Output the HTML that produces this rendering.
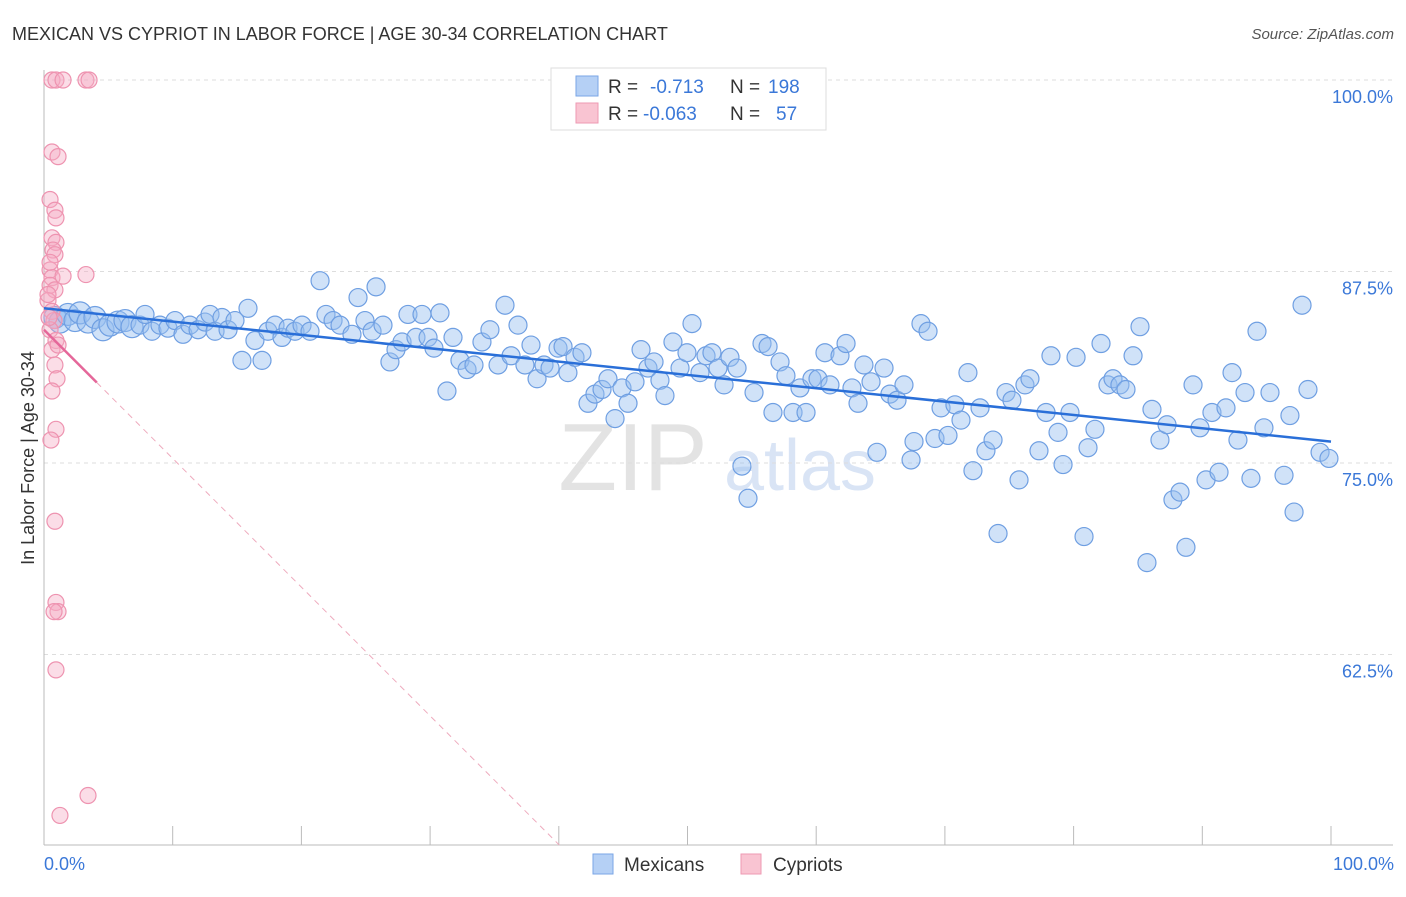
<!DOCTYPE html>
<html><head><meta charset="utf-8"><style>
body{margin:0;background:#fff;font-family:"Liberation Sans",sans-serif}
svg text{font-family:"Liberation Sans",sans-serif}
</style></head><body>
<svg id="c" width="1406" height="892" xmlns="http://www.w3.org/2000/svg">
<text x="12" y="40" font-size="18" fill="#333">MEXICAN VS CYPRIOT IN LABOR FORCE | AGE 30-34 CORRELATION CHART</text>
<text x="1394" y="39" font-size="15" fill="#555" text-anchor="end" font-style="italic">Source: ZipAtlas.com</text>
<text x="34" y="458" font-size="18" fill="#333" text-anchor="middle" transform="rotate(-90 34 458)">In Labor Force | Age 30-34</text>
<g><text x="633" y="490" font-size="96" fill="#ddd" font-family="Liberation Serif" text-anchor="middle" opacity="0.8">ZIP</text><text x="800" y="490" font-size="72" fill="#c9d9f2" text-anchor="middle" opacity="0.7">atlas</text></g>
<g id="grid"></g><g id="pts"></g><g id="lines"></g>
<g>
<rect x="551" y="68" width="275" height="62" fill="#fff" stroke="#ddd"/>
<rect x="576" y="76" width="22" height="20" fill="#b5d0f5" stroke="#7aa6e6"/>
<rect x="576" y="103" width="22" height="20" fill="#f9c4d2" stroke="#ee9ab3"/>
<text x="608" y="93" font-size="19" fill="#333">R = </text><text x="650" y="93" font-size="19" fill="#3b78d8">-0.713</text>
<text x="730" y="93" font-size="19" fill="#333">N = </text><text x="768" y="93" font-size="19" fill="#3b78d8">198</text>
<text x="608" y="120" font-size="19" fill="#333">R = </text><text x="643" y="120" font-size="19" fill="#3b78d8">-0.063</text>
<text x="730" y="120" font-size="19" fill="#333">N = </text><text x="776" y="120" font-size="19" fill="#3b78d8">57</text>
</g>
<g>
<rect x="593" y="854" width="20" height="20" fill="#b5d0f5" stroke="#7aa6e6"/>
<text x="624" y="871" font-size="19" fill="#333">Mexicans</text>
<rect x="741" y="854" width="20" height="20" fill="#f9c4d2" stroke="#ee9ab3"/>
<text x="773" y="871" font-size="19" fill="#333">Cypriots</text>
</g>
<text x="44" y="870" font-size="18" fill="#3b78d8">0.0%</text>
<text x="1394" y="870" font-size="18" fill="#3b78d8" text-anchor="end">100.0%</text>
</svg>
<script>
const yTicks=[100,87.5,75,62.5];
const yTickLabels=["100.0%","87.5%","75.0%","62.5%"];
const xTicks=[0,10,20,30,40,50,60,70,80,90,100];
const blueX=[0.85,1.24,1.86,2.41,2.80,3.42,3.96,4.58,5.13,5.75,6.29,6.84,7.46,7.85,8.39,9.01,9.63,10.18,10.80,11.34,11.97,12.51,12.90,13.29,13.83,14.30,14.84,15.38,15.85,16.39,16.94,17.40,17.95,18.49,18.96,19.50,20.05,20.67,21.45,21.91,22.46,23.0,23.93,24.4,24.94,25.49,25.8,26.34,26.88,27.35,27.82,28.28,28.9,29.37,29.84,30.3,30.77,31.31,31.78,32.32,32.87,33.41,34.03,34.65,35.28,35.82,36.29,36.83,37.37,37.84,38.31,38.85,39.32,39.94,40.33,40.71,41.26,41.8,42.27,42.81,43.36,43.82,44.37,44.91,45.38,45.92,46.39,46.93,47.4,47.86,48.25,48.87,49.42,49.96,50.35,50.97,51.44,51.9,52.37,52.84,53.3,53.85,54.23,54.7,55.17,55.79,56.26,56.64,57.19,57.65,58.2,58.74,59.21,59.67,60.14,60.68,61.07,61.85,62.32,62.78,63.25,63.71,64.26,64.72,65.27,65.73,66.28,66.82,67.37,67.6,68.14,68.69,69.23,69.7,70.24,70.78,71.25,71.79,72.18,72.73,73.19,73.74,74.13,74.75,75.21,75.76,76.22,76.61,77.31,77.86,78.24,78.79,79.18,79.72,80.19,80.81,81.12,81.66,82.13,82.67,83.06,83.6,84.07,84.62,85.16,85.7,86.09,86.71,87.26,87.72,88.27,88.73,89.28,89.82,90.29,90.75,91.3,91.84,92.31,92.77,93.32,93.78,94.25,94.79,95.26,96.35,96.81,97.13,97.75,98.21,99.15,99.84];
const blueY=[84.5,84.2,84.7,84.3,84.8,84.2,84.5,83.7,84.0,84.2,84.3,83.9,84.0,84.7,83.6,84.0,83.8,84.3,83.4,84.0,83.7,84.2,84.7,83.6,84.5,83.7,84.3,81.7,85.1,83.0,81.7,83.6,84.0,83.2,83.8,83.6,84.0,83.6,86.9,84.7,84.3,84.0,83.4,85.8,84.3,83.6,86.5,84.0,81.6,82.4,82.9,84.7,83.2,84.7,83.2,82.5,84.8,79.7,83.2,81.7,81.1,81.4,82.9,83.7,81.4,85.3,82.0,84.0,81.4,82.7,80.5,81.4,81.2,82.5,82.6,80.9,81.9,82.2,78.9,79.5,79.8,80.5,77.9,79.9,78.9,80.3,82.4,81.2,81.6,80.4,79.4,82.9,81.2,82.2,84.1,80.9,82.0,82.2,81.2,80.1,81.9,81.2,74.8,72.7,79.6,82.8,82.6,78.3,81.6,80.7,78.3,79.9,78.3,80.5,80.5,82.2,80.1,82.0,82.8,79.9,78.9,81.4,80.3,75.7,81.2,79.5,79.1,80.1,75.2,76.4,84.1,83.6,76.6,78.6,76.8,78.8,77.8,80.9,74.5,78.6,75.8,76.5,70.4,79.6,79.1,73.9,80.1,80.5,75.8,78.3,82.0,77.0,74.9,78.3,81.9,70.2,76.0,77.2,82.8,80.1,80.5,80.1,79.8,82.0,83.9,68.5,78.5,76.5,77.5,72.6,73.1,69.5,80.1,77.3,73.9,78.3,74.4,78.6,80.9,76.5,79.6,74.0,83.6,77.3,79.6,74.2,78.1,71.8,85.3,79.8,75.7,75.3];
const pinkX=[0.62,0.93,1.48,3.26,3.5,0.62,1.09,0.47,0.85,0.93,0.62,0.93,0.7,0.85,0.47,0.62,0.47,0.85,1.48,3.26,0.31,0.62,0.78,0.47,0.93,0.62,0.85,1.01,0.62,0.93,0.54,0.85,0.93,1.09,0.78,0.93,3.42,1.24,0.31,0.47,1.09,0.39];
const pinkY=[100,100,100,100,100,95.3,95.0,92.2,91.5,91.0,89.7,89.4,88.9,88.6,87.6,87.1,86.6,86.3,87.2,87.3,85.6,84.9,84.3,83.7,83.0,82.4,81.4,80.5,79.7,77.2,76.5,71.2,65.9,65.3,65.3,61.5,53.3,52.0,86.0,88.1,82.7,84.5];
const blueTrend=[85.1,76.4];
const pinkTrend=[83.7,-0.84];
const NS="http://www.w3.org/2000/svg";
const X0=44,X1=1331,YT=80,YB=845,YMIN=50.07;
const sx=v=>X0+(v/100)*(X1-X0);
const sy=v=>YT+(100-v)*(YB-YT)/(100-YMIN);
function mk(t,a,p){const e=document.createElementNS(NS,t);for(const k in a)e.setAttribute(k,a[k]);p.appendChild(e);return e;}
const grid=document.getElementById('grid');
yTicks.forEach((t,i)=>{
 const l=mk('line',{x1:X0,x2:1393,y1:sy(t),y2:sy(t),stroke:'#ddd','stroke-dasharray':'4,4'},grid);
 
 
 const tx=mk('text',{x:1393,y:sy(t)+23,'font-size':18,fill:'#3b78d8','text-anchor':'end'},grid);
 tx.textContent=yTickLabels[i];
 
 
});
const ax=mk('line',{x1:X0,x2:1393,y1:YB,y2:YB,stroke:'#bbb'},grid);


const ay=mk('line',{x1:X0,x2:X0,y1:70,y2:YB,stroke:'#bbb'},grid);


xTicks.forEach(t=>{const l=mk('line',{x1:sx(t),x2:sx(t),y1:YB,y2:t===0?YB:YB-19,stroke:'#bbb'},grid);
 
 });
const pts=document.getElementById('pts');
blueX.forEach((x,i)=>{const c=mk('circle',{cx:sx(x),cy:sy(blueY[i]),r:i<12?11:9,fill:'rgba(150,190,240,0.45)',stroke:'#6f9fe2','stroke-width':1.2},pts);
 
 });
pinkX.forEach((x,i)=>{const c=mk('circle',{cx:sx(x),cy:sy(pinkY[i]),r:8,fill:'rgba(245,170,195,0.4)',stroke:'#ee93b0','stroke-width':1.2},pts);
 
 });
const lines=document.getElementById('lines');
const bl=mk('line',{x1:sx(0),y1:sy(blueTrend[0]),x2:sx(100),y2:sy(blueTrend[1]),stroke:'#2a6fd8','stroke-width':2.5},lines);


const pEnd=(pinkTrend[0]-YMIN)/-pinkTrend[1];
const pd=mk('line',{x1:sx(4.1),y1:sy(pinkTrend[0]+pinkTrend[1]*4.1),x2:sx(pEnd),y2:sy(YMIN),stroke:'#eeaabd','stroke-width':1,'stroke-dasharray':'6,5'},lines);


const ps=mk('line',{x1:sx(0),y1:sy(pinkTrend[0]),x2:sx(4.1),y2:sy(pinkTrend[0]+pinkTrend[1]*4.1),stroke:'#e5679a','stroke-width':2.5},lines);


</script>
</body></html>
